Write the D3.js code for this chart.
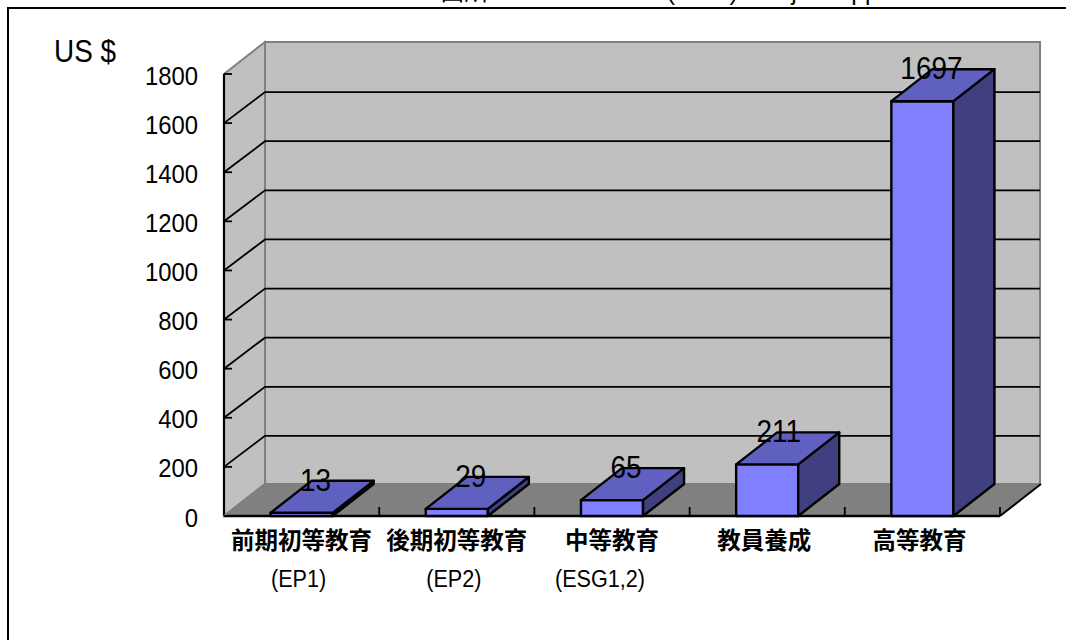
<!DOCTYPE html>
<html>
<head>
<meta charset="utf-8">
<script src="https://cdn.jsdelivr.net/npm/d3@7"></script>
<style>
html,body{margin:0;padding:0;background:#fff;}
svg{display:block;}
text{font-family:"Liberation Sans",Arial,sans-serif;fill:#000;}
.cjk{font-family:"Liberation Sans","Noto Sans CJK JP",sans-serif;}
.cat{font-weight:700;}
.title{white-space:pre;}
</style>
</head>
<body>
<div id="chart"></div>
<script>
var categories=["前期初等教育","後期初等教育","中等教育","教員養成","高等教育"];
var codes=["(EP1)","(EP2)","(ESG1,2)","",""];
var values=[13,29,65,211,1697];
var ticks=[0,200,400,600,800,1000,1200,1400,1600,1800];

var w=1066,h=640,
    svg=d3.select("#chart")
        .append("svg")
        .attr("width",w)
        .attr("height",h);

// front plane of the box, back wall is shifted by depth
var x0=224,x1=1000,y0=516,y1=74,dx=41,dy=32;

var y=d3.scaleLinear().domain([0,1800]).range([y0,y1]);
var barY=d3.scaleLinear().domain([0,1800]).range([y0,y1+2]);
var x=d3.scaleBand().domain(categories).range([x0,x1]).paddingInner(0.6).paddingOuter(0.3);

function pts(a){ return a.map(function(p){return p.join(",");}).join(" "); }
// the latin text is narrow and tall, squeeze it sideways
function narrow(px,py){ return "translate("+px+","+py+") scale(0.9,1)"; }

// clipped title and chart frame
svg.append("text")
    .attr("x",440).attr("y",-0.4)
    .attr("class","cjk title")
    .style("font-size","24.5px")
    .text("出所：   World Bank (1999) \"Project Appraisal Document\"");

svg.append("rect")
    .attr("x",8).attr("y",8)
    .attr("width",1100).attr("height",700)
    .attr("fill","#fff")
    .attr("stroke","#000")
    .attr("stroke-width",2);

// back wall, side wall, floor
svg.append("rect")
    .attr("x",x0+dx).attr("y",y1-dy)
    .attr("width",x1-x0-1).attr("height",y0-y1)
    .attr("fill","#c0c0c0")
    .attr("stroke","#808080")
    .attr("stroke-width",2);
svg.append("polygon")
    .attr("points",pts([[x0,y0],[x0+dx,y0-dy],[x0+dx,y1-dy],[x0,y1]]))
    .attr("fill","#c0c0c0")
    .attr("stroke","#808080")
    .attr("stroke-width",2);
svg.append("polygon")
    .attr("points",pts([[x0,y0],[x1,y0],[x1+dx,y0-dy],[x0+dx,y0-dy]]))
    .attr("fill","#808080")
    .attr("stroke","#808080");

// gridlines run along the side wall and the back wall
var grid=ticks.filter(function(d){return d>0&&d<1800;});
svg.selectAll(".grid")
    .data(grid)
  .enter().append("polyline")
    .attr("class","grid")
    .attr("fill","none")
    .attr("stroke","#000")
    .attr("stroke-width",1.8)
    .attr("points",function(d){
        return pts([[x0,y(d)],[x0+dx,y(d)-dy+1],[x1+dx-1,y(d)-dy+1]]);
    });

// axis lines and ticks
svg.append("line")
    .attr("x1",x0).attr("x2",x0).attr("y1",y1).attr("y2",y0)
    .attr("stroke","#000").attr("stroke-width",2.2);
svg.append("line")
    .attr("x1",x0).attr("x2",x1).attr("y1",y0).attr("y2",y0)
    .attr("stroke","#000").attr("stroke-width",2.4);
svg.append("line")
    .attr("x1",x1).attr("x2",x1+dx).attr("y1",y0).attr("y2",y0-dy)
    .attr("stroke","#000").attr("stroke-width",2);
svg.append("line")
    .attr("x1",x0).attr("x2",x0+dx).attr("y1",y0).attr("y2",y0-dy)
    .attr("stroke","#808080").attr("stroke-width",2);

svg.selectAll(".ytick")
    .data(ticks)
  .enter().append("line")
    .attr("class","ytick")
    .attr("x1",x0).attr("x2",x0+8)
    .attr("y1",function(d){return y(d);}).attr("y2",function(d){return y(d);})
    .attr("stroke","#000").attr("stroke-width",1.8);

var step=(x1-x0)/categories.length;
svg.selectAll(".xtick")
    .data(categories)
  .enter().append("line")
    .attr("class","xtick")
    .attr("x1",function(d,i){return x0+step*(i+1);})
    .attr("x2",function(d,i){return x0+step*(i+1);})
    .attr("y1",y0).attr("y2",y0-9)
    .attr("stroke","#000").attr("stroke-width",1.8);

// bars: front, side, top faces
var bar=svg.selectAll(".bar")
    .data(values)
  .enter().append("g")
    .attr("class","bar")
    .attr("stroke","#000")
    .attr("stroke-width",2.4)
    .attr("stroke-linejoin","round");

function left(i){ return x(categories[i]); }
function right(i){ return x(categories[i])+x.bandwidth(); }
function mid(i){ return x(categories[i])+x.bandwidth()/2; }

bar.append("rect")
    .attr("x",function(d,i){return left(i);})
    .attr("y",function(d){return barY(d);})
    .attr("width",x.bandwidth())
    .attr("height",function(d){return y0-barY(d);})
    .attr("fill","#8080ff");
bar.append("polygon")
    .attr("fill","#404080")
    .attr("points",function(d,i){
        return pts([[right(i),y0],[right(i)+dx,y0-dy],[right(i)+dx,barY(d)-dy],[right(i),barY(d)]]);
    });
bar.append("polygon")
    .attr("fill","#6060c0")
    .attr("points",function(d,i){
        return pts([[left(i),barY(d)],[right(i),barY(d)],[right(i)+dx,barY(d)-dy],[left(i)+dx,barY(d)-dy]]);
    });

// value labels sit over the top face, longer ones drift left
svg.selectAll(".val")
    .data(values)
  .enter().append("text")
    .attr("class","val")
    .attr("text-anchor","middle")
    .attr("transform",function(d,i){
        return narrow(mid(i)+19-2.5*String(d).length,barY(d)-dy+10);
    })
    .style("font-size","31px")
    .text(function(d){return d;});

// axis labels
svg.selectAll(".ylab")
    .data(ticks)
  .enter().append("text")
    .attr("class","ylab")
    .attr("text-anchor","end")
    .attr("transform",function(d){return narrow(198,y(d)+10.5);})
    .style("font-size","26.5px")
    .text(function(d){return d;});

svg.append("text")
    .attr("transform",narrow(54,62))
    .style("font-size","31px")
    .text("US $");

svg.selectAll(".cat")
    .data(categories)
  .enter().append("text")
    .attr("class","cat cjk")
    .attr("text-anchor","middle")
    .attr("x",function(d,i){return mid(i)+(i>2?-3:0);})
    .attr("y",549)
    .style("font-size","23.5px")
    .text(function(d){return d;});

svg.selectAll(".code")
    .data(codes)
  .enter().append("text")
    .attr("class","code")
    .attr("text-anchor","middle")
    .attr("transform",function(d,i){
        return narrow(mid(i)+(d.length>5?-12:-3),587);
    })
    .style("font-size","24px")
    .text(function(d){return d;});
</script>
</body>
</html>
